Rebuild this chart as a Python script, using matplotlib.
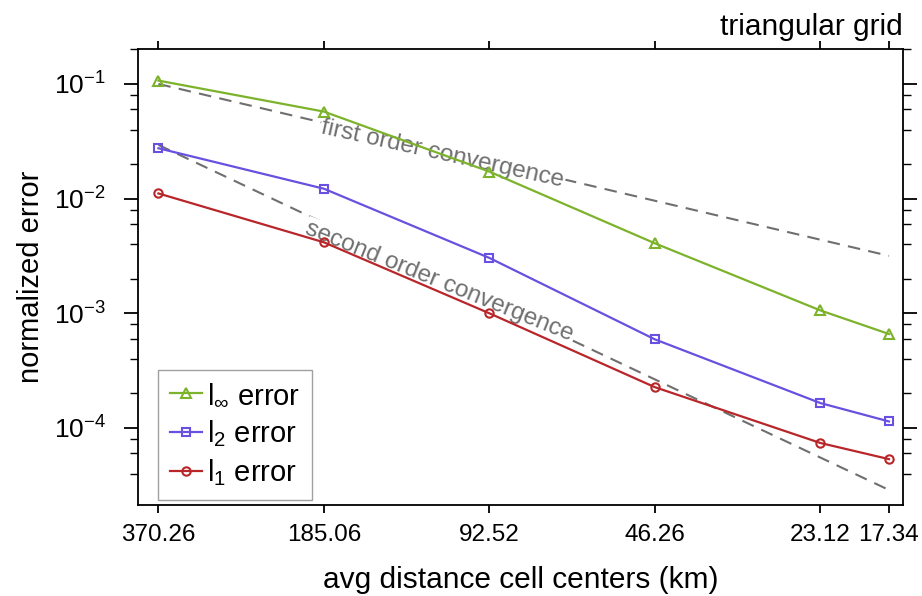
import numpy as np
import matplotlib
matplotlib.use('Agg')
import matplotlib.pyplot as plt
from matplotlib.ticker import FixedLocator, NullFormatter, LogLocator

plt.rcParams['font.family'] = ['Liberation Sans', 'DejaVu Sans']
plt.rcParams['mathtext.fontset'] = 'custom'
plt.rcParams['mathtext.rm'] = 'Liberation Sans'
plt.rcParams['mathtext.it'] = 'Liberation Sans'

# donnees
dist = [370.26, 185.06, 92.52, 46.26, 23.12, 17.34]
err_linf = [0.107, 0.0574, 0.0172, 0.00408, 0.00106, 0.00066]
err_l2 = [0.0275, 0.0122, 0.00304, 0.000593, 0.000165, 0.000114]
err_l1 = [0.0111, 0.00416, 0.00100, 0.000227, 0.000074, 0.0000535]

ref_x = [370.26, 17.34]
ref_first = [0.1, 0.00317]
ref_second = [0.0294, 0.0000288]

tick_labels = ['370.26', '185.06', '92.52', '46.26', '23.12', '17.34']

fig = plt.figure(figsize=(9.22, 5.96), dpi=100)
ax = fig.add_axes([0.1497, 0.1527, 0.9794 - 0.1497, 0.9178 - 0.1527])

ax.set_xscale('log')
ax.set_yscale('log')

gray = '#6f6f6f'
# lignes de reference (pointillees)
ax.plot(ref_x, ref_first, color=gray, lw=1.5, dashes=(6, 4), zorder=1)
ax.plot(ref_x, ref_second, color=gray, lw=1.5, dashes=(6, 4), zorder=1)

# etiquettes des lignes de reference, fond blanc pour couper le pointille
ax.text(112.5, 0.0245, 'first order convergence', color=gray, fontsize=17.5,
        rotation=-12.5, ha='center', va='center', rotation_mode='anchor',
        bbox=dict(facecolor='white', edgecolor='none', pad=1), zorder=1.5)
ax.text(114, 0.00189, 'second order convergence', color=gray, fontsize=17.5,
        rotation=-22, ha='center', va='center', rotation_mode='anchor',
        bbox=dict(facecolor='white', edgecolor='none', pad=1), zorder=1.5)

# courbes d'erreur
ax.plot(dist, err_linf, color='#7cb32b', lw=1.6, marker='^', ms=7, mfc='none',
        mew=1.5, label=r'l$_\infty$ error', zorder=3)
ax.plot(dist, err_l2, color='#6a50e0', lw=1.6, marker='s', ms=6, mfc='none',
        mew=1.5, label=r'l$_2$ error', zorder=3)
ax.plot(dist, err_l1, color='#b8262a', lw=1.6, marker='o', ms=6, mfc='none',
        mew=1.5, label=r'l$_1$ error', zorder=3)

ax.set_xlim(403.3, 16.35)
ax.set_ylim(2.13e-5, 0.2018)

ax.xaxis.set_major_locator(FixedLocator(dist))
ax.set_xticklabels(tick_labels)
ax.xaxis.set_minor_locator(FixedLocator([]))
ax.yaxis.set_minor_locator(LogLocator(base=10, subs=(0.2, 0.4, 0.6, 0.8), numticks=20))
ax.yaxis.set_minor_formatter(NullFormatter())

ax.tick_params(axis='x', which='major', direction='out', length=6, width=1.3,
               top=True, labelsize=17.5, pad=8)
ax.tick_params(axis='y', which='major', direction='out', length=10, width=1.3,
               right=True, labelsize=19, pad=13)
ax.tick_params(axis='y', which='minor', direction='out', length=6, width=1.0,
               right=True)
for s in ax.spines.values():
    s.set_linewidth(1.3)

ax.set_xlabel('avg distance cell centers (km)', fontsize=21.5, labelpad=14)
ax.set_ylabel('normalized error', fontsize=21)
ax.yaxis.set_label_coords(-0.122, 0.5)
ax.set_title('triangular grid', loc='right', fontsize=21.5, pad=10)

leg = ax.legend(loc='lower left', bbox_to_anchor=(0.026, 0.011), fontsize=21,
                frameon=True, fancybox=False, edgecolor='#888888',
                handlelength=1.1, handletextpad=0.2, borderaxespad=0,
                labelspacing=0.3, borderpad=0.4)
leg.get_frame().set_linewidth(1.0)

fig.savefig('out.png', dpi=100)
